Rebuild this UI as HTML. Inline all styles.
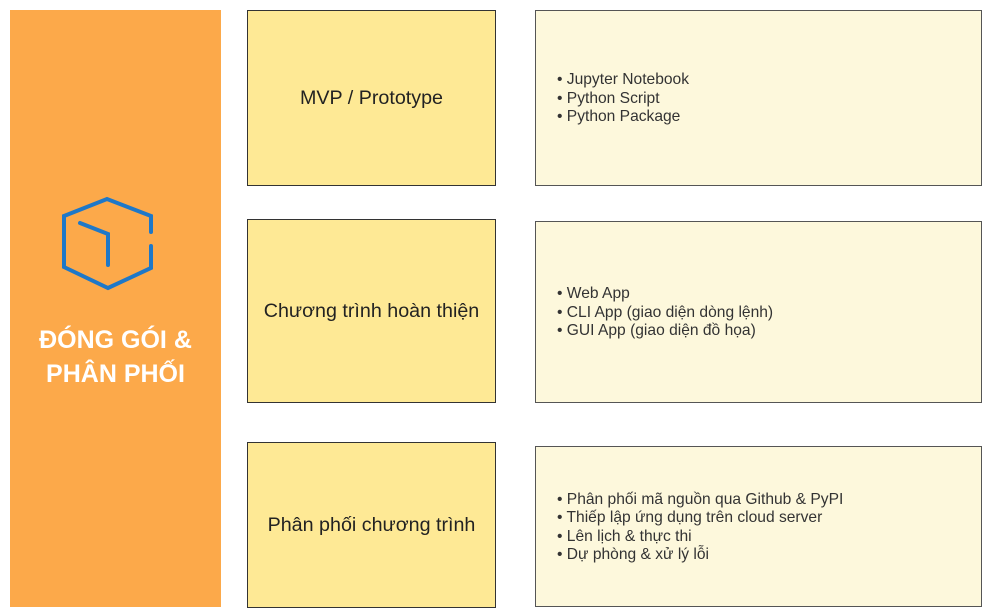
<!DOCTYPE html>
<html><head><meta charset="utf-8"><style>
body{margin:0;width:992px;height:616px;background:#fff;position:relative;overflow:hidden;font-family:"Liberation Sans",sans-serif}
.o{position:absolute;left:10px;top:10px;width:211px;height:597px;background:#fca94a}
.y{position:absolute;left:247px;width:249px;background:#fee995;border:1.5px solid #333;display:flex;align-items:center;justify-content:center;font-size:19.7px;color:#222;box-sizing:border-box}
.r{position:absolute;left:535px;width:447px;background:#fdf8dc;border:1.2px solid #555;box-sizing:border-box;font-size:15.6px;color:#333;line-height:18.5px;display:flex;flex-direction:column;justify-content:center;padding-left:21px;padding-top:2px}
.t{position:absolute;left:10px;width:211px;text-align:center;color:#fff;font-weight:bold;font-size:25px}
</style></head><body>
<div class="o"></div>
<svg style="position:absolute;left:0;top:0" width="230" height="300">
<g fill="none" stroke="#1e78c8" stroke-width="4" stroke-linecap="round">
<path d="M151 232 V216 L107 199 L64 216 V267 L108 288 L151 268 V246"/>
<path d="M80 223 L108 234 V265"/>
</g></svg>
<div class="t" style="top:326px">ĐÓNG GÓI &amp;</div>
<div class="t" style="top:360px">PHÂN PHỐI</div>
<div class="y" style="top:10px;height:176px">MVP / Prototype</div>
<div class="y" style="top:219px;height:184px">Chương trình hoàn thiện</div>
<div class="y" style="top:442px;height:166px">Phân phối chương trình</div>
<div class="r" style="top:10px;height:176px">• Jupyter Notebook<br>• Python Script<br>• Python Package</div>
<div class="r" style="top:221px;height:182px">• Web App<br>• CLI App (giao diện dòng lệnh)<br>• GUI App (giao diện đồ họa)</div>
<div class="r" style="top:446px;height:161px">• Phân phối mã nguồn qua Github &amp; PyPI<br>• Thiếp lập ứng dụng trên cloud server<br>• Lên lịch &amp; thực thi<br>• Dự phòng &amp; xử lý lỗi</div>
</body></html>
